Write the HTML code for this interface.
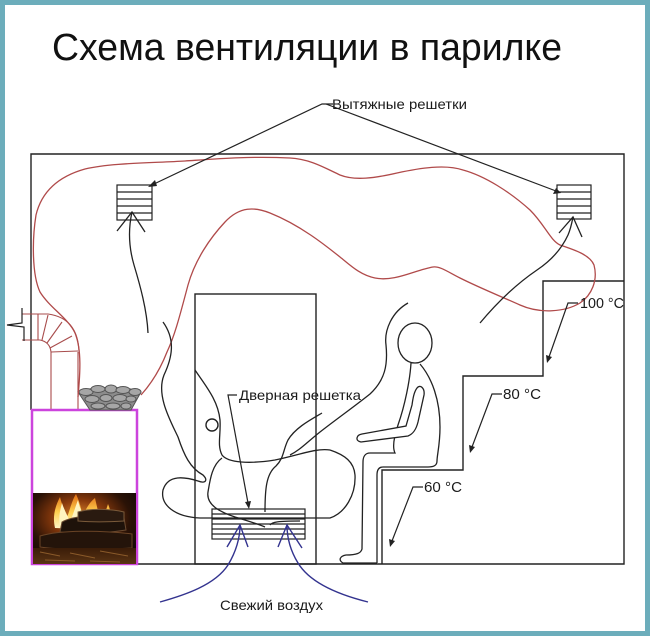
<!DOCTYPE html>
<html><head><meta charset="utf-8">
<style>
html,body{margin:0;padding:0;background:#6cadbb;}
svg{display:block;}
text{font-family:"Liberation Sans",Arial,sans-serif;fill:#1a1a1a;}
</style></head>
<body>
<svg width="650" height="636" viewBox="0 0 650 636" xmlns="http://www.w3.org/2000/svg">
<defs>
<radialGradient id="glow" cx="0.45" cy="0.35" r="0.7">
<stop offset="0" stop-color="#e08a30"/>
<stop offset="0.35" stop-color="#8a3a0c"/>
<stop offset="0.7" stop-color="#2a1206"/>
<stop offset="1" stop-color="#120804"/>
</radialGradient>
<linearGradient id="fl" x1="0" y1="1" x2="0" y2="0">
<stop offset="0" stop-color="#fff8d0"/>
<stop offset="0.5" stop-color="#ffd050"/>
<stop offset="1" stop-color="#e06a10"/>
</linearGradient>
<linearGradient id="emb" x1="0" y1="0" x2="0" y2="1">
<stop offset="0" stop-color="#3a1c08"/>
<stop offset="1" stop-color="#5a3414"/>
</linearGradient>
</defs>

<!-- teal frame + white page -->
<rect x="0" y="0" width="650" height="636" fill="#6cadbb"/>
<rect x="5" y="5" width="640" height="626" fill="#ffffff"/>

<!-- title -->
<text x="52" y="60" font-size="38" textLength="510" lengthAdjust="spacingAndGlyphs" style="fill:#111">Схема вентиляции в парилке</text>

<!-- room -->
<g fill="none" stroke="#222" stroke-width="1.4">
<path d="M31,410 V154 H624 V564 H137"/>
<!-- door -->
<rect x="195" y="294" width="121" height="270"/>
<circle cx="212" cy="425" r="6"/>
<!-- steps -->
<path d="M382,564 V470 H463 V376 H543 V281 H624"/>
</g>

<!-- chimney pipe -->
<g fill="none" stroke="#a84c4c" stroke-width="1.1">
<path d="M51,410 V352"/>
<path d="M78,410 V352"/>
<path d="M22,314 H48 Q78,318 79,352"/>
<path d="M22,340 H40 Q50,342 51,352"/>
<path d="M38,314 V340"/>
<path d="M48,315 L42,340"/>
<path d="M62,322 L47,343"/>
<path d="M72,336 L50,348"/>
<path d="M78,351 L51,352"/>
</g>
<path d="M22,308 V323 L7,325 L24,327 V341" fill="none" stroke="#222" stroke-width="1.2"/>

<!-- stove -->
<rect x="32" y="410" width="105" height="154" fill="#fff" stroke="#cc44dd" stroke-width="2.5"/>
<!-- fire -->
<g>
<rect x="33" y="493" width="103" height="71" fill="url(#glow)"/>
<path d="M55,528 C52,515 56,505 60,497 C62,506 66,512 66,520 C70,510 72,500 76,494 C80,503 82,510 82,518 C86,508 90,502 95,498 C97,508 100,515 98,525 C104,518 106,510 108,504 C112,512 110,522 106,530 Z" fill="url(#fl)"/>
<path d="M60,526 C58,515 61,508 62,503 C65,512 68,516 70,522 C74,512 76,505 78,500 C80,510 84,515 86,524 Z" fill="#fff4c0"/>
<path d="M62,522 C72,516 95,514 124,518 L126,530 C100,534 75,534 60,532 Z" fill="#1e120a" stroke="#6a4a30" stroke-width="1"/>
<path d="M78,512 C90,508 112,509 124,512 L124,521 C108,522 90,522 78,521 Z" fill="#2a1a10" stroke="#7a5a3a" stroke-width="1"/>
<path d="M40,536 C60,530 100,530 132,534 L132,548 C100,550 60,550 40,547 Z" fill="#24140a" stroke="#6a4426" stroke-width="1"/>
<rect x="33" y="548" width="103" height="16" fill="url(#emb)"/>
<path d="M40,552 L60,556 M70,553 L95,558 M100,551 L128,556 M45,560 L75,561 M90,561 L120,562" stroke="#8a5a2a" stroke-width="1" fill="none"/>
</g>

<!-- stones -->
<g stroke="#555" stroke-width="1">
<path d="M78,392 C90,386 130,386 141,392 L131,410 L90,410 Z" fill="#8c8c8c"/>
<g fill="#a6a6a6">
<ellipse cx="86" cy="392" rx="7" ry="3.5"/>
<ellipse cx="98" cy="389" rx="7" ry="3.5"/>
<ellipse cx="111" cy="389" rx="6" ry="4"/>
<ellipse cx="123" cy="390" rx="7" ry="3.5"/>
<ellipse cx="135" cy="392" rx="6" ry="3.5"/>
<ellipse cx="92" cy="399" rx="7" ry="3.5"/>
<ellipse cx="106" cy="398" rx="6" ry="3.5"/>
<ellipse cx="120" cy="398" rx="7" ry="3.5"/>
<ellipse cx="131" cy="399" rx="5" ry="3"/>
<ellipse cx="98" cy="406" rx="7" ry="3"/>
<ellipse cx="113" cy="406" rx="7" ry="3"/>
<ellipse cx="126" cy="406" rx="5" ry="3"/>
</g>
</g>

<!-- red air loop -->
<path d="M78,397 C80,375 82,350 75,333 C68,318 50,308 40,292 C32,275 32,240 36,215 C42,190 60,176 85,169 C110,163 150,163 185,161 C215,159 250,156 290,158 C310,159 325,168 340,175 C355,181 375,178 397,173 C420,168 445,164 463,170 C485,176 510,192 530,210 C545,225 550,240 560,245 C575,250 590,255 594,265 C598,280 592,295 580,303 C565,312 540,314 520,305 C500,296 480,288 460,278 C448,272 440,266 433,267 C415,270 395,282 375,278 C360,275 350,265 340,257 C325,245 300,225 270,213 C255,207 240,206 225,222 C210,238 195,260 188,285 C180,315 175,335 167,352 C160,370 150,385 141,395" fill="none" stroke="#b04a4a" stroke-width="1.3"/>

<!-- wall grilles -->
<g fill="#fff" stroke="#222" stroke-width="1.2">
<rect x="117" y="185" width="35" height="35"/>
<path d="M117,192 H152 M117,199 H152 M117,206 H152 M117,213 H152" fill="none"/>
<rect x="557" y="185" width="34" height="34"/>
<path d="M557,192 H591 M557,199 H591 M557,206 H591 M557,213 H591" fill="none"/>
</g>

<!-- black flow lines -->
<g fill="none" stroke="#222" stroke-width="1.3">
<path d="M148,333 C147,310 140,285 134,265 C129,248 128,230 132,212"/>
<path d="M117,231 L132,212 L145,232"/>
<path d="M480,323 C495,305 515,285 537,270 C552,260 562,248 568,235 C571,228 572,222 573,217"/>
<path d="M559,233 L573,217 L582,237"/>
<path d="M163,322 C176,340 172,358 164,375 C156,395 170,420 178,437 C184,455 190,468 203,475 C208,480 206,484 198,481 C185,477 168,474 163,490 C160,505 175,517 200,518 L330,518 C345,513 356,495 355,475 C354,462 345,455 330,450"/>
<path d="M195,370 C205,385 218,400 220,420 C221,435 217,445 222,455 C228,463 250,464 275,460 C300,455 315,448 330,450"/>
<path d="M408,303 C392,312 384,330 386,345 C388,365 385,380 370,394 C355,406 338,418 320,432 C305,444 300,450 290,455"/>
<path d="M222,458 C212,465 210,480 208,492 C206,505 220,512 235,517 C245,520 258,524 265,527"/>
<path d="M322,413 C310,420 295,428 288,440 C283,450 284,458 276,466 C266,474 265,490 265,512"/>
<path d="M270,525 C272,522 278,521 300,521"/>
</g>

<!-- person -->
<g fill="none" stroke="#222" stroke-width="1.3">
<ellipse cx="415" cy="343" rx="17" ry="20"/>
<path d="M411,363 C410,380 405,405 398,425 C394,437 392,447 395,453 L370,453 C365,453 363,457 363,462 L362,549 C361,553 357,555 346,555 C340,556 338,560 343,563 L377,563"/>
<path d="M420,364 C432,378 440,400 440,427 C440,445 437,455 437,461 C437,466 433,467 428,467 L383,467 C379,467 377,470 377,475 L377,563"/>
<path d="M417,388 C414,392 413,398 412,405 L406,426 L362,434 C356,435 355,441 361,442 L408,436 C413,434 416,430 418,422 L424,395 C425,388 420,384 417,388 Z" fill="#fff"/>
</g>

<!-- door grille -->
<g fill="none" stroke="#222" stroke-width="1.2">
<rect x="212" y="509" width="93" height="30"/>
<path d="M212,514 H305 M212,519 H305 M212,524 H305 M212,529 H305 M212,534 H305"/>
</g>

<!-- blue fresh air arrows -->
<g fill="none" stroke="#33338f" stroke-width="1.4">
<path d="M160,602 C185,595 215,585 228,565 C237,550 240,537 240,525"/>
<path d="M227,547 L240,525 L248,547"/>
<path d="M368,602 C340,595 310,583 298,563 C290,550 287,537 287,525"/>
<path d="M278,547 L287,525 L302,548"/>
</g>

<!-- leaders -->
<g fill="none" stroke="#222" stroke-width="1.2">
<path d="M333,104 H322 L154,184"/>
<path d="M326,104 L556,191"/>
<path d="M237,395 H228 L248,503"/>
<path d="M578,303 H568 L549,357"/>
<path d="M502,394 H492 L472,447"/>
<path d="M423,487 H413 L392,541"/>
</g>
<g fill="#222">
<path d="M148,187 L155,180 L157,186 Z"/>
<path d="M561,193 L553,194 L556,188 Z"/>
<path d="M249,509 L245,502 L251,501 Z"/>
<path d="M547,363 L546,355 L552,357 Z"/>
<path d="M470,453 L469,445 L475,447 Z"/>
<path d="M390,547 L389,539 L395,541 Z"/>
</g>

<!-- labels -->
<text x="332" y="109" font-size="14" textLength="135" lengthAdjust="spacingAndGlyphs">Вытяжные решетки</text>
<text x="239" y="400" font-size="14" textLength="122" lengthAdjust="spacingAndGlyphs">Дверная решетка</text>
<text x="220" y="610" font-size="14" textLength="103" lengthAdjust="spacingAndGlyphs">Свежий воздух</text>
<text x="580" y="308" font-size="14.5" textLength="44" lengthAdjust="spacingAndGlyphs">100 °C</text>
<text x="503" y="399" font-size="14.5" textLength="38" lengthAdjust="spacingAndGlyphs">80 °C</text>
<text x="424" y="492" font-size="14.5" textLength="38" lengthAdjust="spacingAndGlyphs">60 °C</text>
</svg>
</body></html>
